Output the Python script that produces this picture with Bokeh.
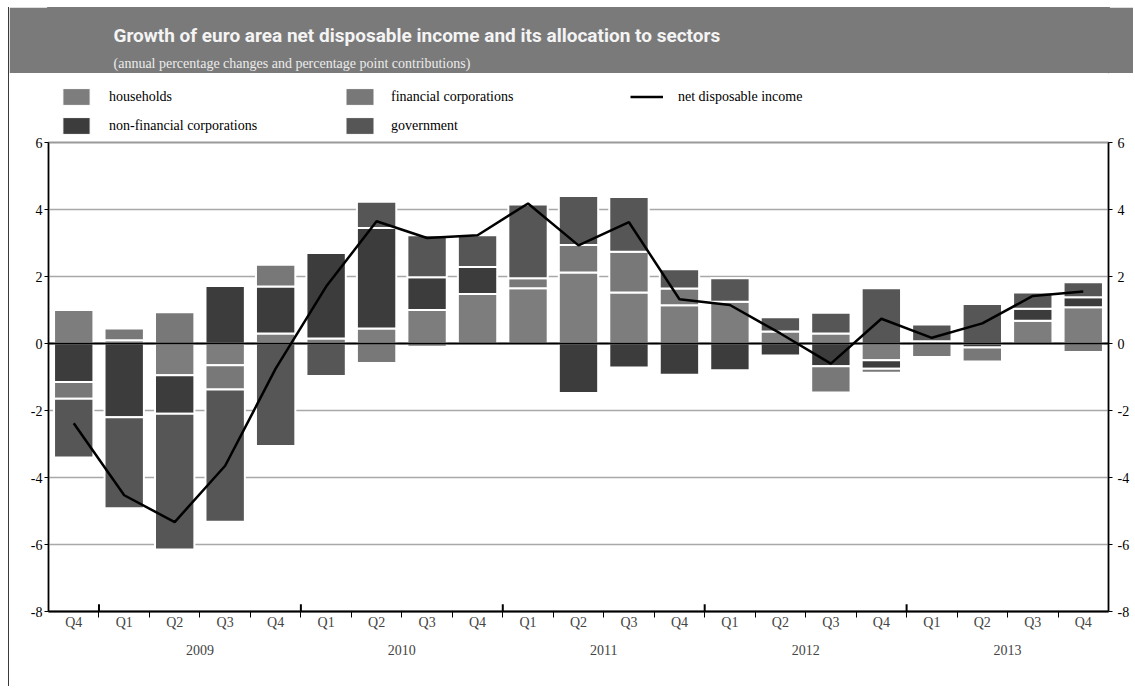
import numpy as np
from bokeh.plotting import figure
from bokeh.models import (Range1d, LinearAxis, FixedTicker, Span, Legend, LegendItem,
                          Label, ColumnDataSource, Grid, Spacer)
from bokeh.layouts import column, row
from bokeh.embed import file_html
from bokeh.resources import INLINE

# ---------------- data ----------------
quarters = ["Q4", "Q1", "Q2", "Q3", "Q4", "Q1", "Q2", "Q3", "Q4", "Q1", "Q2",
            "Q3", "Q4", "Q1", "Q2", "Q3", "Q4", "Q1", "Q2", "Q3", "Q4"]
years = [2008, 2009, 2009, 2009, 2009, 2010, 2010, 2010, 2010, 2011, 2011,
         2011, 2011, 2012, 2012, 2012, 2012, 2013, 2013, 2013, 2013]
year_labels = ["2009", "2010", "2011", "2012", "2013"]

households = [1.00, 0.10, -0.95, -0.65, 0.30, 0.15, 0.45, 1.00, 1.48, 1.65, 2.12,
              1.52, 1.14, 1.25, 0.36, 0.30, -0.50, 0.07, 0.00, 0.68, 1.08]
non_financial = [-1.15, -2.20, -1.15, 1.72, 1.40, 2.55, 3.00, 0.98, 0.80, 0.00, -1.48,
                 -0.72, -0.93, -0.80, -0.36, -0.68, -0.25, 0.00, -0.12, 0.36, 0.30]
financial = [-0.50, 0.35, 0.93, -0.72, 0.65, 0.00, -0.58, -0.10, 0.00, 0.30, 0.82,
             1.22, 0.50, 0.00, 0.00, -0.78, -0.12, -0.40, -0.42, 0.00, -0.25]
government = [-1.75, -2.72, -4.05, -3.95, -3.06, -0.97, 0.78, 1.25, 0.95, 2.20, 1.46,
              1.63, 0.58, 0.70, 0.42, 0.62, 1.65, 0.50, 1.18, 0.48, 0.45]
net_income = [-2.38, -4.53, -5.33, -3.65, -0.75, 1.70, 3.65, 3.15, 3.23, 4.18, 2.93,
              3.62, 1.32, 1.15, 0.30, -0.60, 0.74, 0.17, 0.60, 1.42, 1.55]

y_ticks = [-8, -6, -4, -2, 0, 2, 4, 6]

series_names = ["households", "non-financial corporations", "financial corporations", "government"]
series_values = [households, non_financial, financial, government]
series_colors = ["#7d7d7d", "#3c3c3c", "#787878", "#565656"]
line_name = "net disposable income"

title_text = "Growth of euro area net disposable income and its allocation to sectors"
subtitle_text = "(annual percentage changes and percentage point contributions)"

SERIF = "Liberation Serif"
TITLE_FONT = "Roboto"
BAND = "#7a7a7a"
W = 1124
BL, BR = 39, 25
n = len(quarters)
centers = [i + 0.5 for i in range(n)]

# ---------------- stacking (positive and negative parts stacked separately) ----------------
pos = np.zeros(n)
neg = np.zeros(n)
bar_sources = []
for vals in series_values:
    v = np.array(vals, dtype=float)
    bottom = np.where(v >= 0, pos, neg)
    top = bottom + v
    pos = np.where(v >= 0, top, pos)
    neg = np.where(v < 0, top, neg)
    mask = v != 0
    bar_sources.append(ColumnDataSource(dict(x=np.array(centers)[mask],
                                             bottom=bottom[mask], top=top[mask])))
line_src = ColumnDataSource(dict(x=centers, y=net_income))

# ---------------- header band ----------------
band = figure(width=W, height=66, output_backend="svg", toolbar_location=None,
              x_range=Range1d(0, 1), y_range=Range1d(0, 1), title=None,
              x_axis_type=None, y_axis_type=None,
              min_border_left=BL, min_border_right=BR, min_border_top=0, min_border_bottom=0,
              outline_line_color=BAND, outline_line_width=3, background_fill_color=BAND,
              border_fill_color=BAND)
band.add_layout(Label(x=65, y=38, x_units="screen", y_units="screen", text=title_text,
                      text_font=TITLE_FONT, text_font_style="bold",
                      text_font_size="19px", text_color="#f4f4f4",
                      text_baseline="alphabetic"))
band.add_layout(Label(x=65, y=10, x_units="screen", y_units="screen", text=subtitle_text,
                      text_font=SERIF, text_font_size="14px", text_color="#ececec",
                      text_baseline="alphabetic"))

# ---------------- legend strip (renderers share the chart's sources, data kept out of view) ----------------
leg_fig = figure(width=W, height=63, output_backend="svg", toolbar_location=None,
                 x_range=Range1d(-200, -199), y_range=Range1d(-200, -199), title=None,
                 x_axis_type=None, y_axis_type=None,
                 min_border_left=BL, min_border_right=BR, min_border_top=0, min_border_bottom=0,
                 outline_line_color=None, background_fill_color="white",
                 border_fill_color="white")
leg_renderers = []
for src, col in zip(bar_sources, series_colors):
    r = leg_fig.vbar(x="x", bottom="bottom", top="top", width=0.78, source=src,
                     fill_color=col, line_color="white", line_width=1)
    leg_renderers.append(r)
leg_line = leg_fig.line(x="x", y="y", source=line_src, line_color="black", line_width=2.5)

leg_common = dict(background_fill_alpha=0, border_line_color=None, padding=0, margin=0,
                  label_text_font=SERIF, label_text_font_size="14px",
                  label_text_color="black", glyph_height=21, label_height=21,
                  spacing=8)
leg1 = Legend(items=[LegendItem(label=series_names[0], renderers=[leg_renderers[0]]),
                     LegendItem(label=series_names[1], renderers=[leg_renderers[1]])],
              location=(11, 0), glyph_width=34, label_standoff=16, **leg_common)
leg2 = Legend(items=[LegendItem(label=series_names[2], renderers=[leg_renderers[2]]),
                     LegendItem(label=series_names[3], renderers=[leg_renderers[3]])],
              location=(294, 0), glyph_width=35, label_standoff=14, **leg_common)
leg3 = Legend(items=[LegendItem(label=line_name, renderers=[leg_line])],
              location=(582, 29), glyph_width=33, label_standoff=15, **leg_common)
for lg in (leg1, leg2, leg3):
    leg_fig.add_layout(lg, "center")

# ---------------- main chart ----------------
p = figure(width=W, height=550, output_backend="svg", toolbar_location=None,
           x_range=Range1d(0, n), y_range=Range1d(y_ticks[0], y_ticks[-1]), title=None,
           x_axis_type=None, y_axis_type=None,
           min_border_left=BL, min_border_right=BR, min_border_top=6, min_border_bottom=75,
           outline_line_color="#9a9a9a", outline_line_width=2,
           background_fill_color="white", border_fill_color="white")

p.add_layout(Grid(dimension=1, ticker=FixedTicker(ticks=y_ticks),
                  grid_line_color="#a8a8a8", grid_line_width=1.5))

for src, col in zip(bar_sources, series_colors):
    p.vbar(x="x", bottom="bottom", top="top", width=0.78, source=src,
           fill_color=col, line_color="white", line_width=2)

p.add_layout(Span(location=0, dimension="width", line_color="black", line_width=2))

p.line(x="x", y="y", source=line_src, line_color="black", line_width=2.5)

# year-boundary ticks (before every Q1)
bounds = [float(i) for i, q in enumerate(quarters) if q == "Q1"]
p.segment(x0=bounds, x1=bounds, y0=[y_ticks[0]] * len(bounds),
          y1=[y_ticks[0] + 0.22] * len(bounds), line_color="black", line_width=2)

def style_y(ax, standoff):
    ax.axis_line_color = "black"
    ax.axis_line_width = 1.5
    ax.major_tick_out = 4
    ax.major_tick_in = 0
    ax.minor_tick_line_color = None
    ax.major_label_text_font = SERIF
    ax.major_label_text_font_size = "14px"
    ax.major_label_text_color = "black"
    ax.major_label_standoff = standoff
    ax.major_label_overrides = {t: str(t) for t in y_ticks}

yl = LinearAxis(ticker=FixedTicker(ticks=y_ticks))
style_y(yl, 2)
p.add_layout(yl, "left")
yr = LinearAxis(ticker=FixedTicker(ticks=y_ticks))
style_y(yr, 5)
p.add_layout(yr, "right")

xa = LinearAxis(ticker=FixedTicker(ticks=centers, minor_ticks=[float(i) for i in range(1, n)]))
xa.major_label_overrides = {c: q for c, q in zip(centers, quarters)}
xa.axis_line_color = "black"
xa.axis_line_width = 2
xa.major_tick_out = 0
xa.major_tick_in = 0
xa.minor_tick_out = 6
xa.minor_tick_in = 0
xa.minor_tick_line_color = "black"
xa.minor_tick_line_width = 1
xa.major_label_text_font = SERIF
xa.major_label_text_font_size = "14px"
xa.major_label_standoff = -3
p.add_layout(xa, "below")

year_centers = []
for yl_txt in year_labels:
    idx = [i for i, yv in enumerate(years) if str(yv) == yl_txt]
    year_centers.append((idx[0] + idx[-1] + 1) / 2.0)
xy = LinearAxis(ticker=FixedTicker(ticks=year_centers))
xy.major_label_overrides = {c: t for c, t in zip(year_centers, year_labels)}
xy.axis_line_color = None
xy.major_tick_line_color = None
xy.minor_tick_line_color = None
xy.major_label_text_font = SERIF
xy.major_label_text_font_size = "14px"
xy.major_label_standoff = 6
p.add_layout(xy, "below")

stack = column(band, leg_fig, p, spacing=0)
frame_line = Spacer(width=1, height=66 + 63 + 550, styles={"background-color": "#3a3a3a"})
layout = column(Spacer(height=7),
                row(Spacer(width=8), frame_line, stack, spacing=0),
                spacing=0)
open("out.html", "w").write(file_html(layout, INLINE))
